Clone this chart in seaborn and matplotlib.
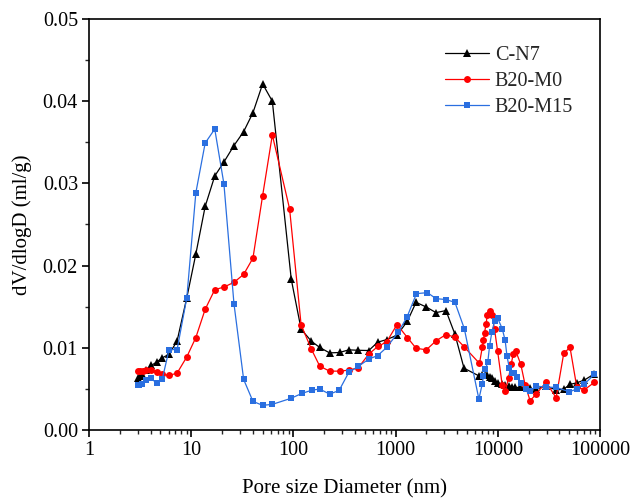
import matplotlib
matplotlib.use("Agg")
import matplotlib.pyplot as plt
import seaborn as sns
import numpy as np
import pandas as pd
from matplotlib.ticker import LogLocator, FixedLocator, MultipleLocator, NullFormatter

# ---- data ----
cn7_x = [2.99, 3.17, 3.29, 3.63, 4.06, 4.58, 5.2, 6.08, 7.28, 9.06,
         11.1, 13.7, 17.0, 20.9, 26.2, 32.6, 40.2, 50.0, 62.2, 95.3,
         119, 150, 181, 226, 283, 348, 430, 546, 668, 818,
         1033, 1303, 1585, 1997, 2484, 3110, 3808, 4670, 6620, 7040,
         7420, 7870, 8300, 8750, 9290, 9940, 11040, 11810, 12730, 13730,
         14890, 16560, 18530, 20720, 23560, 29700, 37200, 44200, 50900, 59200,
         70300, 87900]
cn7_y = [0.00627, 0.00655, 0.0068, 0.00728, 0.00785, 0.00825, 0.00877, 0.00922, 0.01084, 0.0161,
         0.0214, 0.0272, 0.0309, 0.0326, 0.0346, 0.0363, 0.0386, 0.0421, 0.0400, 0.01833,
         0.01226, 0.0108, 0.01004, 0.00938, 0.00943, 0.00975, 0.0097, 0.00967, 0.01068, 0.0110,
         0.01153, 0.01323, 0.01553, 0.01496, 0.01428, 0.01453, 0.01165, 0.00752, 0.00655, 0.00664,
         0.00671, 0.00664, 0.00647, 0.00627, 0.00595, 0.00574, 0.00555, 0.00546, 0.00534, 0.00526,
         0.00518, 0.00518, 0.00518, 0.00506, 0.00494, 0.00538, 0.00485, 0.00498, 0.00555, 0.00574,
         0.00607, 0.00683]

m0_x = [2.99, 3.17, 3.34, 3.63, 4.06, 4.58, 5.2, 6.08, 7.28, 9.06,
        11.1, 13.7, 17.0, 20.9, 26.2, 32.6, 40.2, 50.0, 62.2, 91.8,
        119, 150, 181, 226, 283, 348, 430, 546, 668, 818,
        1033, 1303, 1585, 1997, 2484, 3110, 3808, 4700, 6620, 7040,
        7240, 7420, 7700, 7870, 8300, 8750, 9290, 9940, 11040, 11810,
        12730, 13530, 14160, 15060, 16800, 18530, 20720, 23560, 29700, 37200,
        44200, 50900, 59200, 70300, 87900]
m0_y = [0.00712, 0.00716, 0.0072, 0.00728, 0.00728, 0.0070, 0.0068, 0.00664, 0.00692, 0.0089,
        0.01125, 0.01468, 0.01707, 0.01739, 0.01796, 0.01893, 0.02091, 0.02852, 0.03589, 0.0269,
        0.01278, 0.00983, 0.00777, 0.00716, 0.00716, 0.00728, 0.00756, 0.00922, 0.01016, 0.01072,
        0.01283, 0.01125, 0.00995, 0.00975, 0.01084, 0.01161, 0.0113, 0.0101, 0.0081, 0.01004,
        0.01092, 0.01186, 0.01295, 0.01396, 0.01453, 0.01396, 0.01226, 0.00967, 0.0055, 0.0047,
        0.00631, 0.00805, 0.00922, 0.00955, 0.00797, 0.00546, 0.00356, 0.00433, 0.00583, 0.00392,
        0.00934, 0.01004, 0.00526, 0.00489, 0.00579]

m15_x = [2.99, 3.1, 3.29, 3.63, 4.06, 4.58, 5.2, 6.08, 7.28, 9.06,
         11.1, 13.7, 17.0, 20.9, 26.2, 32.6, 40.2, 50.0, 62.2, 94.6,
         121, 152, 181, 226, 280, 348, 430, 546, 668, 818,
         1060, 1290, 1600, 2050, 2484, 3110, 3808, 4700, 6530, 7040,
         7240, 7550, 7980, 8300, 8750, 9290, 9940, 11040, 11810, 12300,
         13000, 13730, 14400, 15300, 16900, 18900, 20720, 23700, 29700, 37200,
         50200, 59200, 70300, 87900]
m15_y = [0.00542, 0.00548, 0.00555, 0.00607, 0.00627, 0.0057, 0.00615, 0.00979, 0.00979, 0.0161,
         0.02885, 0.03491, 0.03661, 0.02994, 0.01538, 0.00615, 0.00348, 0.0030, 0.00312, 0.00385,
         0.00445, 0.00485, 0.00498, 0.00437, 0.00481, 0.0070, 0.00773, 0.00862, 0.00906, 0.01004,
         0.01189, 0.01371, 0.01659, 0.01671, 0.01598, 0.01587, 0.01553, 0.01234, 0.00376, 0.00558,
         0.00655, 0.00737, 0.00825, 0.01019, 0.01193, 0.01323, 0.01363, 0.01234, 0.01089, 0.00898,
         0.00749, 0.00688, 0.00695, 0.00647, 0.00574, 0.00498, 0.00477, 0.00534, 0.00522, 0.00518,
         0.00465, 0.00498, 0.00558, 0.00676]

series_names = ["C-N7", "B20-M0", "B20-M15"]
x_ticks = [1, 10, 100, 1000, 10000, 100000]
x_tick_labels = ["1", "10", "100", "1000", "10000", "100000"]
y_ticks = [0.00, 0.01, 0.02, 0.03, 0.04, 0.05]
y_tick_labels = ["0.00", "0.01", "0.02", "0.03", "0.04", "0.05"]

# ---- style ----
sns.set_theme(style="ticks")
plt.rcParams["font.family"] = ["Liberation Serif", "DejaVu Serif"]

fig = plt.figure(figsize=(6.32, 4.98), dpi=100)
ax = fig.add_axes([89 / 632, (498 - 430) / 498, (600 - 89) / 632, (430 - 19) / 498])

styles = [
    dict(color="black", marker="^", markersize=5.5),
    dict(color="#ff0000", marker="o", markersize=5.0),
    dict(color="#2a6fe0", marker="s", markersize=4.3),
]
data = [(cn7_x, cn7_y), (m0_x, m0_y), (m15_x, m15_y)]

for name, (xs, ys), st in zip(series_names, data, styles):
    df = pd.DataFrame({"x": xs, "y": ys})
    sns.lineplot(data=df, x="x", y="y", ax=ax, sort=False, estimator=None,
                 color=st["color"], marker=st["marker"], markersize=st["markersize"],
                 markeredgewidth=0, linewidth=0.9, label=name)

ax.set_xscale("log")
ax.set_xlim(1, 100000)
ax.set_ylim(0, 0.05)
ax.xaxis.set_major_locator(FixedLocator(x_ticks))
ax.set_xticklabels(x_tick_labels)
ax.xaxis.set_minor_locator(LogLocator(base=10, subs=np.arange(2, 10), numticks=20))
ax.xaxis.set_minor_formatter(NullFormatter())
ax.yaxis.set_major_locator(FixedLocator(y_ticks))
ax.set_yticklabels(y_tick_labels)
ax.yaxis.set_minor_locator(MultipleLocator(0.005))

for s in ax.spines.values():
    s.set_visible(True)
    s.set_linewidth(1.2)
    s.set_color("black")

ax.tick_params(which="major", direction="out", length=5, width=1.2, labelsize=14.5,
               colors="black", top=False, right=False, pad=3)
ax.tick_params(which="minor", direction="out", length=3, width=1.0,
               top=False, right=False)

ax.set_xlabel("Pore size Diameter (nm)", fontsize=15, color="black", labelpad=14)
ax.set_ylabel("dV/dlogD (ml/g)", fontsize=15, color="black", labelpad=8)
ax.grid(False)

leg = ax.legend(loc="upper left", bbox_to_anchor=(0.68, 0.955), frameon=False,
                fontsize=14.5, handlelength=2.2, handletextpad=0.3, labelspacing=0.35,
                borderaxespad=0)

fig.savefig("out.png", dpi=100)
